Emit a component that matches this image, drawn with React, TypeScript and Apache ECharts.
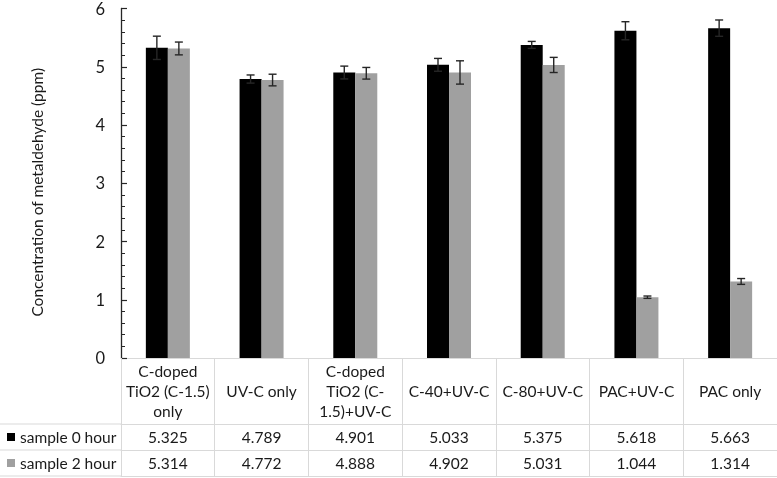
import React, { useEffect, useRef } from "react";
import * as echarts from "echarts";

const categories = [
  "C-doped\nTiO2 (C-1.5)\nonly",
  "UV-C only",
  "C-doped\nTiO2 (C-\n1.5)+UV-C",
  "C-40+UV-C",
  "C-80+UV-C",
  "PAC+UV-C",
  "PAC only",
];
const seriesNames = ["sample 0 hour", "sample 2 hour"];
const sample0 = [5.325, 4.789, 4.901, 5.033, 5.375, 5.618, 5.663];
const sample2 = [5.314, 4.772, 4.888, 4.902, 5.031, 1.044, 1.314];
const err0 = [0.2, 0.07, 0.11, 0.11, 0.06, 0.155, 0.14];
const err2 = [0.11, 0.1, 0.1, 0.2, 0.13, 0.02, 0.05];
const yTicks = { min: 0, max: 6, interval: 1 };

const FONT = "Lato";
const TEXT = "#1a1a1a";
const LINE = "#d9d9d9";
const GRID_LEFT = 121;
const GRID_TOP = 7;
const PLOT_BOTTOM = 358;
const HEADER_H = 66;
const ROW_H = 26;
const BAR_W = 22;
const W = 777;
const H = 478;

export default function App() {
  const ref = useRef<HTMLDivElement>(null);
  useEffect(() => {
    if (!ref.current) return;
    const chart = echarts.init(ref.current, null, { renderer: "svg" });
    const row1Y = PLOT_BOTTOM + HEADER_H;
    const row2Y = row1Y + ROW_H;
    const row3Y = row2Y + ROW_H;

    const errSeries = (vals: number[], errs: number[], side: number, name: string) => ({
      type: "custom",
      name: name + " err",
      data: vals.map((v, i) => [i, v, errs[i]]),
      z: 10,
      silent: true,
      renderItem: (params: any, api: any) => {
        const c = api.value(0);
        const v = api.value(1);
        const e = api.value(2);
        const top = api.coord([c, v + e]);
        const bot = api.coord([c, v - e]);
        const x = top[0] + (side * BAR_W) / 2;
        const cap = 4;
        const style = { stroke: "#262626", lineWidth: 1.4 };
        return {
          type: "group",
          children: [
            { type: "line", shape: { x1: x, y1: top[1], x2: x, y2: bot[1] }, style },
            { type: "line", shape: { x1: x - cap, y1: top[1], x2: x + cap, y2: top[1] }, style },
            { type: "line", shape: { x1: x - cap, y1: bot[1], x2: x + cap, y2: bot[1] }, style },
          ],
        };
      },
    });

    const valueAxis = (offset: number, values: number[] | null) => ({
      type: "category",
      data: categories,
      position: "bottom",
      offset,
      boundaryGap: true,
      axisLine: { show: true, lineStyle: { color: LINE, width: 1 } },
      axisTick: { show: false },
      axisLabel: {
        show: !!values,
        interval: 0,
        margin: ROW_H / 2,
        verticalAlign: "middle",
        fontFamily: FONT,
        fontSize: 15.5,
        color: TEXT,
        formatter: (_: string, i: number) => (values ? values[i].toFixed(3) : ""),
      },
    });

    chart.setOption({
      animation: false,
      textStyle: { fontFamily: FONT },
      grid: {
        left: GRID_LEFT,
        right: 0,
        top: GRID_TOP,
        bottom: H - PLOT_BOTTOM,
      },
      legend: {
        data: seriesNames,
        orient: "vertical",
        left: 7,
        top: row1Y,
        padding: 0,
        itemWidth: 8,
        itemHeight: 8,
        itemGap: 0,
        icon: "rect",
        textStyle: { fontFamily: FONT, fontSize: 15.5, color: TEXT, lineHeight: ROW_H },
        selectedMode: false,
      },
      xAxis: [
        {
          type: "category",
          data: categories,
          position: "bottom",
          boundaryGap: true,
          axisLine: { show: true, lineStyle: { color: LINE, width: 1 } },
          axisTick: {
            show: true,
            interval: 0,
            alignWithLabel: false,
            inside: false,
            length: HEADER_H + 2 * ROW_H,
            lineStyle: { color: LINE, width: 1 },
          },
          axisLabel: {
            interval: 0,
            margin: HEADER_H / 2,
            verticalAlign: "middle",
            align: "center",
            fontFamily: FONT,
            fontSize: 15.5,
            lineHeight: 20,
            color: TEXT,
          },
        },
        valueAxis(HEADER_H, sample0),
        valueAxis(HEADER_H + ROW_H, sample2),
        valueAxis(HEADER_H + 2 * ROW_H, null),
      ],
      yAxis: {
        type: "value",
        min: yTicks.min,
        max: yTicks.max,
        interval: yTicks.interval,
        name: "Concentration of metaldehyde (ppm)",
        nameLocation: "middle",
        nameGap: 76,
        nameRotate: 90,
        nameTextStyle: { fontFamily: FONT, fontSize: 15.5, color: TEXT, padding: [0, 18, 0, 0] },
        axisLine: { show: true, lineStyle: { color: "#262626", width: 1.3 } },
        axisTick: { show: true, inside: true, length: 6, lineStyle: { color: "#262626", width: 1.2 } },
        minorTick: { show: true, splitNumber: 5, length: 4, lineStyle: { color: "#262626", width: 1 } },
        splitLine: { show: false },
        axisLabel: { margin: 16, fontFamily: FONT, fontSize: 16.5, color: TEXT },
      },
      series: [
        {
          type: "bar",
          name: seriesNames[0],
          data: sample0,
          barWidth: BAR_W,
          barGap: "0%",
          itemStyle: { color: "#000000" },
        },
        {
          type: "bar",
          name: seriesNames[1],
          data: sample2,
          barWidth: BAR_W,
          barGap: "0%",
          itemStyle: { color: "#a0a0a0" },
        },
        errSeries(sample0, err0, -1, seriesNames[0]),
        errSeries(sample2, err2, 1, seriesNames[1]),
      ],
      graphic: [row1Y, row2Y, row3Y].map((y) => ({
        type: "line",
        shape: { x1: 0, y1: y, x2: GRID_LEFT, y2: y },
        style: { stroke: LINE, lineWidth: 1 },
        silent: true,
      })),
    });
    return () => chart.dispose();
  }, []);
  return (
    <div
      ref={ref}
      style={{ position: "fixed", left: 0, top: 0, width: W, height: H }}
    />
  );
}
